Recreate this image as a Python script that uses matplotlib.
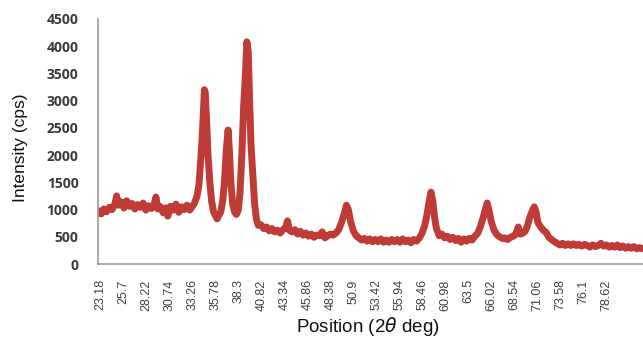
import matplotlib
matplotlib.use("Agg")
import matplotlib.pyplot as plt

# ---- data ----
two_theta = [
    23.0, 23.3, 23.6, 23.9, 24.2, 24.5, 24.8, 25.0, 25.2, 25.5, 25.8, 26.1, 26.4, 26.7,
    27.0, 27.3, 27.6, 27.9, 28.2, 28.5, 28.8, 29.1, 29.3, 29.5, 29.8, 30.1, 30.4, 30.6,
    30.9, 31.2, 31.5, 31.8, 32.1, 32.4, 32.7, 33.0, 33.2, 33.5, 33.8, 34.0, 34.2, 34.35,
    34.5, 34.6, 34.7, 34.85, 35.0, 35.2, 35.4, 35.6, 35.8, 36.0, 36.2, 36.4, 36.6, 36.8,
    37.0, 37.2, 37.35, 37.5, 37.7, 37.9, 38.1, 38.3, 38.5, 38.7, 38.9, 39.1, 39.25, 39.4,
    39.55, 39.7, 39.9, 40.1, 40.3, 40.5, 40.8, 41.1, 41.4, 41.7, 42.0, 42.3, 42.6, 42.9,
    43.2, 43.5, 43.7, 43.9, 44.2, 44.5, 44.8, 45.1, 45.4, 45.7, 46.0, 46.3, 46.6, 46.9,
    47.2, 47.5, 47.8, 48.1, 48.4, 48.7, 49.0, 49.3, 49.6, 49.9, 50.15, 50.35, 50.6, 50.9,
    51.2, 51.5, 51.8, 52.1, 52.4, 52.7, 53.0, 53.3, 53.6, 53.9, 54.2, 54.5, 54.8, 55.1,
    55.4, 55.7, 56.0, 56.3, 56.6, 56.9, 57.2, 57.5, 57.8, 58.1, 58.4, 58.7, 58.95, 59.2,
    59.4, 59.6, 59.8, 60.0, 60.3, 60.6, 60.9, 61.2, 61.5, 61.8, 62.1, 62.4, 62.7, 63.0,
    63.3, 63.6, 63.9, 64.2, 64.5, 64.8, 65.1, 65.35, 65.55, 65.75, 66.0, 66.3, 66.6, 66.9,
    67.2, 67.5, 67.8, 68.1, 68.4, 68.7, 68.95, 69.15, 69.4, 69.7, 69.95, 70.2, 70.5, 70.7,
    70.9, 71.1, 71.4, 71.7, 72.0, 72.3, 72.6, 72.9, 73.2, 73.5, 73.8, 74.1, 74.4, 74.7,
    75.0, 75.3, 75.6, 75.9, 76.2, 76.5, 76.8, 77.1, 77.4, 77.7, 78.0, 78.3, 78.6, 78.9,
    79.2, 79.5, 79.8, 80.1, 80.4, 80.7, 81.0, 81.3, 81.6, 81.9, 82.2, 82.6,
]
intensity = [
    980, 920, 1010, 960, 1040, 1000, 1100, 1250, 1080, 1140, 1030, 1160, 1060, 1110,
    1010, 1090, 1040, 1120, 990, 1070, 1020, 1090, 1230, 1010, 1050, 940, 1030, 880,
    1060, 990, 1100, 950, 1050, 1000, 1080, 990, 1040, 1110, 1250, 1450, 1900, 2300,
    2800, 3200, 3150, 2600, 2000, 1500, 1150, 960, 890, 830, 900, 960, 1150, 1500,
    2100, 2460, 2050, 1500, 1100, 960, 910, 980, 1300, 2000, 2900, 3500, 4080, 3900,
    3000, 2200, 1650, 1100, 820, 710, 720, 650, 680, 610, 650, 590, 620, 570,
    630, 670, 790, 620, 590, 630, 550, 600, 530, 570, 510, 550, 490, 530,
    520, 590, 480, 520, 550, 530, 570, 630, 760, 920, 1080, 1000, 780, 610,
    520, 480, 440, 470, 420, 460, 410, 450, 410, 460, 400, 440, 400, 450,
    410, 450, 400, 460, 410, 440, 390, 450, 420, 470, 560, 700, 900, 1150,
    1320, 1150, 850, 650, 520, 550, 480, 510, 450, 490, 430, 470, 400, 460,
    420, 470, 440, 510, 560, 680, 850, 1000, 1120, 980, 780, 620, 540, 500,
    470, 480, 450, 490, 510, 550, 680, 550, 560, 600, 700, 850, 980, 1050,
    950, 760, 680, 620, 580, 490, 450, 410, 380, 350, 380, 340, 370, 340,
    370, 340, 360, 330, 360, 340, 310, 350, 320, 340, 380, 330, 350, 310,
    340, 310, 350, 300, 330, 290, 320, 290, 320, 280, 300, 280,
]
tick_positions = [23.18, 25.7, 28.22, 30.74, 33.26, 35.78, 38.3, 40.82, 43.34, 45.86,
                  48.38, 50.9, 53.42, 55.94, 58.46, 60.98, 63.5, 66.02, 68.54, 71.06,
                  73.58, 76.1, 78.62]
tick_labels = ["23.18", "25.7", "28.22", "30.74", "33.26", "35.78", "38.3", "40.82",
               "43.34", "45.86", "48.38", "50.9", "53.42", "55.94", "58.46", "60.98",
               "63.5", "66.02", "68.54", "71.06", "73.58", "76.1", "78.62"]
y_ticks = [0, 500, 1000, 1500, 2000, 2500, 3000, 3500, 4000, 4500]

fig = plt.figure(figsize=(6.43, 3.38), dpi=100)
ax = fig.add_axes([98/643, 1 - 264/338, 1 - 98/643, (264 - 19)/338])

ax.plot(two_theta, intensity, color="#BF3B35", linewidth=5,
        solid_joinstyle="round", solid_capstyle="round")

ax.set_xlim(22.96, 82.6)
ax.set_ylim(0, 4500)
ax.set_xticks(tick_positions)
ax.set_xticklabels(tick_labels, rotation=90, fontsize=9, color="#404040",
                   family="Liberation Sans")
ax.set_yticks(y_ticks)
ax.set_yticklabels([str(v) for v in y_ticks], fontsize=10, fontweight="bold",
                   color="#3a3a3a", family="Open Sans")
ax.tick_params(axis="both", length=0)
ax.tick_params(axis="x", pad=11)
ax.tick_params(axis="y", pad=14)

for s in ["top", "right"]:
    ax.spines[s].set_visible(False)
ax.spines["left"].set_color("#a09890")
ax.spines["bottom"].set_color("#a09890")
ax.spines["left"].set_linewidth(1.2)
ax.spines["bottom"].set_linewidth(1.2)

fig.text(368/643, 1 - 326/338, r"Position (2$\theta$ deg)", ha="center", va="center",
         fontsize=13.5, family="Liberation Sans", color="#111111")
fig.text(21/643, 1 - 148/338, "Intensity (cps)", ha="center", va="center", rotation=90,
         fontsize=12.5, family="Liberation Sans", color="#111111")

fig.savefig("out.png", dpi=100)
